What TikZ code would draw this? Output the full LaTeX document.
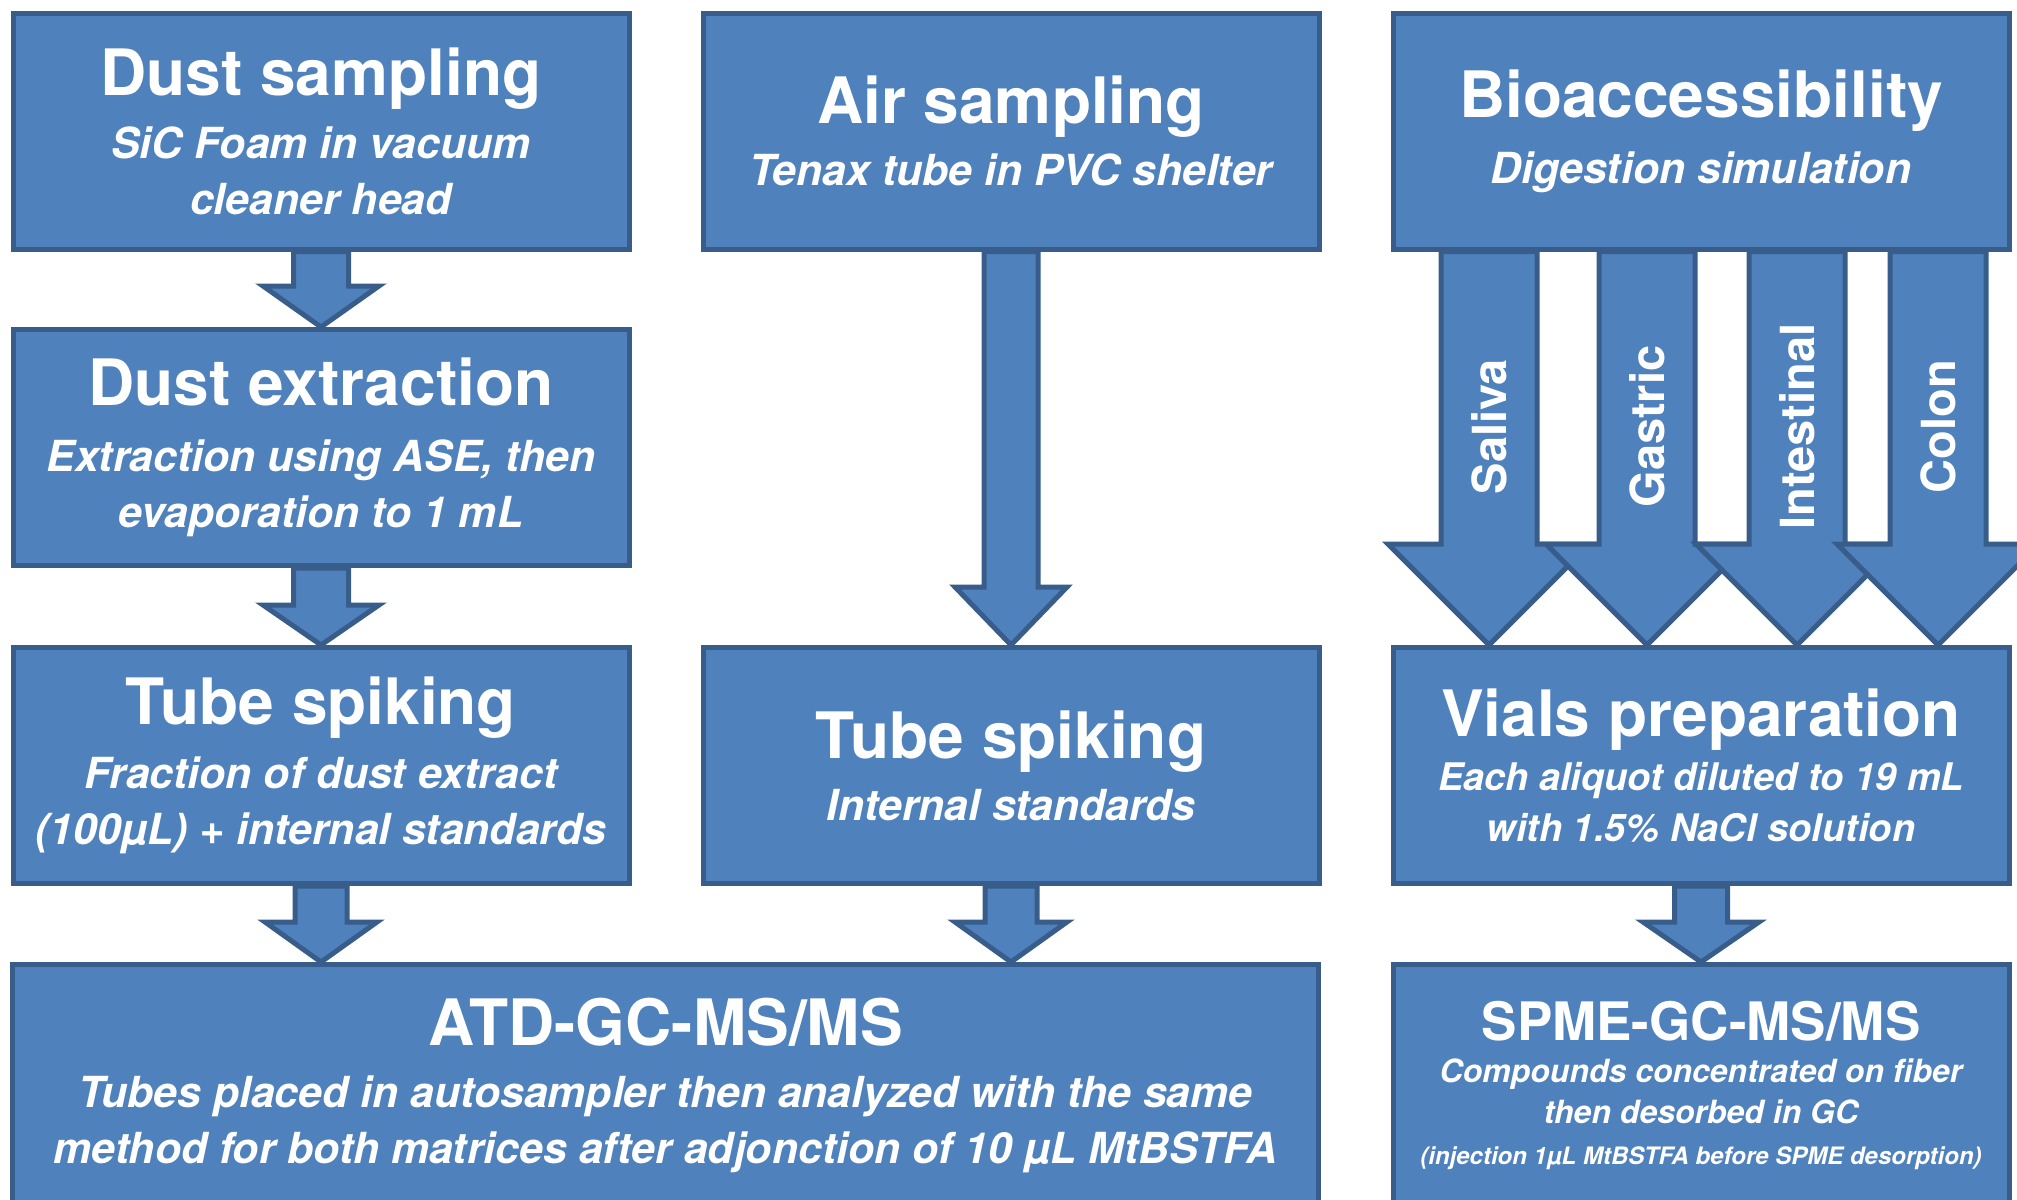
\documentclass[tikz,border=0pt]{standalone}
\usepackage{fontspec}
\setmainfont{TeX Gyre Heros}
\usetikzlibrary{calc,backgrounds}

\definecolor{stagefill}{HTML}{4F81BD}
\definecolor{stageline}{HTML}{385D8A}

\tikzset{
  stagebox/.style={draw=stageline, fill=stagefill, line width=2.5pt, text=white,
    minimum width=308pt, minimum height=118pt, align=center, inner sep=0pt,
    font=\fontsize{21.4}{28}\selectfont\bfseries\itshape},
  fatarrow/.style={draw=stageline, fill=stagefill, line width=2.5pt},
  phaselabel/.style={text=white, rotate=90, inner sep=0pt,
    font=\fontsize{23.5}{28}\selectfont\bfseries}
}

\newcommand{\stagetitle}[1]{{\fontsize{32}{32}\selectfont\upshape #1}}

% fat arrow from the bottom of #2 to the top of #3 (#1 = shift in px)
\newcommand{\blockarrow}[6][0]{%
  \draw[fatarrow] let \p1=($(#2.south)+(#1,0)$), \p2=(#3.north) in
    (\x1-#4,\y1) -- (\x1-#4,\y2+#6) -- (\x1-#5,\y2+#6) -- (\x1,\y2)
    -- (\x1+#5,\y2+#6) -- (\x1+#4,\y2+#6) -- (\x1+#4,\y1) -- cycle;}

\begin{document}
\begin{tikzpicture}[x=0.5pt,y=-0.5pt]
  \useasboundingbox (0,0) rectangle (2017,1199);

  % top row
  \node[stagebox] (dust) at (321,131)
    {\stagetitle{Dust sampling}\\[3.5pt] SiC Foam in vacuum\\ cleaner head};
  \node[stagebox] (air) at (1011,131)
    {\stagetitle{Air sampling}\\[3pt] Tenax tube in PVC shelter};
  \node[stagebox] (bio) at (1701,131)
    {\stagetitle{Bioaccessibility}\\[5pt] Digestion simulation};

  % middle rows
  \node[stagebox] (extract) at (321,447.5)
    {\stagetitle{Dust extraction}\\[5pt] Extraction using ASE, then\\ evaporation to 1 mL};
  \node[stagebox] (spike1) at (321,765.5)
    {\stagetitle{Tube spiking}\\[4pt] Fraction of dust extract\\ (100µL) + internal standards};
  \node[stagebox] (spike2) at (1011,765.5)
    {\stagetitle{Tube spiking}\\[3pt] Internal standards};
  \node[stagebox, font=\fontsize{19}{25.5}\selectfont\bfseries\itshape] (vials) at (1701,765.5)
    {\stagetitle{Vials preparation}\\[1.5pt] Each aliquot diluted to 19 mL\\ with 1.5\% NaCl solution};

  % analysis
  \node[stagebox, minimum width=653pt, minimum height=120.5pt] (atd) at (665.5,1085)
    {\stagetitle{ATD-GC-MS/MS}\\[3pt] Tubes placed in autosampler then analyzed with the same\\
     method for both matrices after adjonction of 10 µL MtBSTFA};
  \node[stagebox, minimum height=120.5pt, font=\fontsize{16}{20.5}\selectfont\bfseries\itshape] (spme) at (1701,1085)
    {{\fontsize{26.5}{26.5}\selectfont\upshape SPME-GC-MS/MS}\\[0.5pt] Compounds concentrated on fiber\\
     then desorbed in GC\\ {\fontsize{12}{14}\selectfont (injection 1µL MtBSTFA before SPME desorption)}};

  \begin{scope}[on background layer]
    \blockarrow{dust}{extract}{13.75pt}{29pt}{20.5pt}
    \blockarrow{extract}{spike1}{13.75pt}{29pt}{20pt}
    \blockarrow{air}{spike2}{13.5pt}{28pt}{29pt}
    \blockarrow{spike1}{atd}{13pt}{28pt}{20pt}
    \blockarrow{spike2}{atd}{13pt}{28pt}{20pt}
    \blockarrow{vials}{spme}{13.25pt}{29pt}{20pt}
    \foreach \dx in {-212,-54,96,237} {
      \blockarrow[\dx]{bio}{vials}{24pt}{50.5pt}{50.5pt}
    }
  \end{scope}

  \foreach \dx/\phase/\nm in {-212/Saliva/saliva,-54/Gastric/gastric,96/Intestinal/intestinal,237/Colon/colon}
    \node[phaselabel] (\nm) at ($(bio.south)+(\dx,175)$) {\phase};
\end{tikzpicture}
\end{document}
